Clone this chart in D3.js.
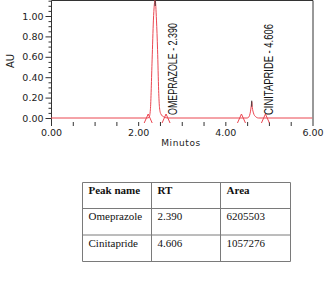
<!DOCTYPE html>
<html><head><meta charset="utf-8">
<script src="https://cdn.jsdelivr.net/npm/d3@7/dist/d3.min.js"></script>
<style>
html,body{margin:0;padding:0;background:#fff;}
svg{display:block;}
</style></head>
<body>
<svg id="c" width="327" height="292"></svg>
<script>
// ---- data ----
const timeMin = [0, 2.20, 2.25, 2.28, 2.32, 2.35, 2.39, 2.42, 2.445, 2.47, 2.49, 2.52, 2.59, 2.68,
                 4.50, 4.54, 4.575, 4.595, 4.606, 4.62, 4.645, 4.69, 4.76, 6.0];
const auValues = [0, 0, 0.005, 0.08, 0.57, 0.96, 1.16, 0.96, 0.67, 0.27, 0.10, 0.04, 0.01, 0,
                  0, 0.01, 0.06, 0.12, 0.16, 0.10, 0.05, 0.015, 0, 0];
const markerTimes = [2.23, 2.64, 4.37, 4.92];
const peakNames = ["Omeprazole", "Cinitapride"];
const peakLabels = ["OMEPRAZOLE - 2.390", "CINITAPRIDE - 4.606"];
const rtValues = [2.390, 4.606];
const apexAU = [1.16, 0.16];
const areaValues = [6205503, 1057276];
const yTicks = [0, 0.2, 0.4, 0.6, 0.8, 1.0];
const xTicks = [0, 2, 4, 6];
const tableHeaders = ["Peak name", "RT", "Area"];

// ---- drawing ----
const svg = d3.select("#c");
const red = "#ea4651";
const x = d3.scaleLinear().domain([0, 6]).range([51, 312.5]);
const y = d3.scaleLinear().domain([0, 1]).range([118, 16]);
const frameTop = 0.5, frameBottom = 126;

svg.append("defs").append("clipPath").attr("id", "clip")
  .append("rect").attr("x", x(0)).attr("y", 0).attr("width", x(6) - x(0)).attr("height", 130);

// frame
svg.append("path")
  .attr("d", `M${x(0)+0.5},${frameBottom}V${frameTop}H${x(6)+0.5}V${frameBottom}`)
  .attr("fill", "none").attr("stroke", "#333").attr("stroke-width", 1);

// y axis (major)
const yAx = svg.append("g").attr("transform", `translate(${x(0)+0.5},0)`)
  .call(d3.axisLeft(y).tickValues(yTicks).tickSize(6).tickPadding(2).tickFormat(d3.format(".2f")));
yAx.select(".domain").remove();
yAx.selectAll("line").attr("stroke", "#333");
yAx.selectAll("text").attr("font-family", "DejaVu Sans").attr("font-size", 9.5).attr("fill", "#222");
// y minor
const yMinor = d3.range(0, 1.16, 0.05).filter(v => Math.abs(v * 5 - Math.round(v * 5)) > 1e-6);
const yMi = svg.append("g").attr("transform", `translate(${x(0)+0.5},0)`)
  .call(d3.axisLeft(y).tickValues(yMinor).tickSize(3).tickFormat(""));
yMi.select(".domain").remove();
yMi.selectAll("line").attr("stroke", "#333");

// x axis
const xAllTicks = d3.range(0.5, 6, 0.5);
const xAx = svg.append("g").attr("transform", "translate(0,122)")
  .call(d3.axisBottom(x).tickValues(xAllTicks).tickSize(4).tickFormat(""));
xAx.select(".domain").remove();
xAx.selectAll("line").attr("stroke", "#333");
const xLab = svg.append("g").attr("transform", "translate(0,122)")
  .call(d3.axisBottom(x).tickValues(xTicks).tickSize(0).tickPadding(7).tickFormat(d3.format(".2f")));
xLab.select(".domain").remove();
xLab.selectAll("text").attr("font-family", "DejaVu Sans").attr("font-size", 9.5).attr("fill", "#222");

// axis titles
svg.append("text").attr("transform", `translate(14,${61}) rotate(-90)`)
  .attr("text-anchor", "middle").attr("font-family", "DejaVu Sans").attr("font-size", 10)
  .attr("fill", "#222").text("AU");
svg.append("text").attr("x", 181).attr("y", 146).attr("text-anchor", "middle")
  .attr("font-family", "DejaVu Sans").attr("font-size", 9).attr("letter-spacing", 0.6)
  .attr("fill", "#222").text("Minutos");

// trace
const pts = timeMin.map((t, i) => [t, auValues[i]]);
const g = svg.append("g").attr("clip-path", "url(#clip)");
g.append("path").datum(pts)
  .attr("d", d3.line().x(d => x(d[0])).y(d => y(d[1])).curve(d3.curveMonotoneX))
  .attr("fill", "none").attr("stroke", red).attr("stroke-width", 1);

// integration markers
g.selectAll("path.mk").data(markerTimes).enter().append("path").attr("class", "mk")
  .attr("d", t => `M${x(t)-4},${y(0)+5}L${x(t)},${y(0)-4}L${x(t)+4},${y(0)+5}`)
  .attr("fill", "none").attr("stroke", red).attr("stroke-width", 1);

// apex marks
g.selectAll("line.apex").data(rtValues).enter().append("line").attr("class", "apex")
  .attr("x1", t => x(t)).attr("x2", t => x(t))
  .attr("y1", (t, i) => Math.max(0, y(apexAU[i]) - 1))
  .attr("y2", (t, i) => Math.max(0, y(apexAU[i]) - 1) + 6)
  .attr("stroke", "#333").attr("stroke-width", 1);

// peak labels (condensed by horizontal scale along the text direction)
const labLen = [92, 91];
svg.selectAll("text.pk").data(rtValues).enter().append("text").attr("class", "pk")
  .attr("font-family", "'Liberation Sans Narrow', 'Liberation Sans', Arial, sans-serif")
  .attr("font-size", 12).attr("fill", "#111")
  .text((t, i) => peakLabels[i])
  .each(function (t, i) {
    const w = this.getComputedTextLength();
    const s = labLen[i] / w;
    d3.select(this).attr("transform", `translate(${x(t) + 21.5},115) rotate(-90) scale(${s},1)`);
  });

// table
const colX = [82.5, 151.5, 220.5, 290.5];
const rowY = [182.5, 208.5, 235, 261.5];
const tb = svg.append("g");
tb.selectAll("line.h").data(rowY).enter().append("line")
  .attr("x1", colX[0]).attr("x2", colX[3]).attr("y1", d => d).attr("y2", d => d)
  .attr("stroke", "#7a7a7a").attr("stroke-width", 1);
tb.selectAll("line.v").data(colX).enter().append("line")
  .attr("y1", rowY[0]).attr("y2", rowY[3]).attr("x1", d => d).attr("x2", d => d)
  .attr("stroke", "#7a7a7a").attr("stroke-width", 1);
const rows = [tableHeaders].concat(peakNames.map((n, i) => [n, rtValues[i].toFixed(3), String(areaValues[i])]));
rows.forEach((r, ri) => {
  r.forEach((c, ci) => {
    tb.append("text").attr("x", colX[ci] + 6).attr("y", rowY[ri] + 11.5)
      .attr("font-family", "'Liberation Serif', 'Times New Roman', serif")
      .attr("font-size", 11).attr("font-weight", ri === 0 ? "bold" : "normal")
      .attr("fill", "#111").text(c);
  });
});
</script>
</body></html>
